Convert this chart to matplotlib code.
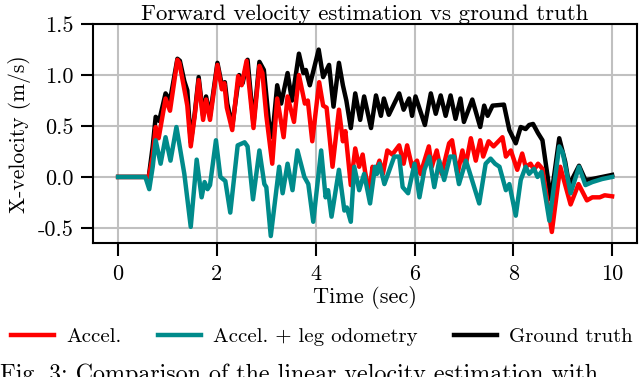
import numpy as np
import matplotlib
matplotlib.use("Agg")
import matplotlib.pyplot as plt

plt.rcParams['font.family'] = ['cmr10', 'DejaVu Serif']
plt.rcParams['axes.unicode_minus'] = False
plt.rcParams['mathtext.fontset'] = 'cm'

# Accel. (red)
t_acc = [0.0, 0.62, 0.70, 0.76, 0.82, 0.96, 1.05, 1.20, 1.24, 1.34, 1.40, 1.47,
         1.55, 1.63, 1.72, 1.78, 1.86, 2.01, 2.10, 2.15, 2.20, 2.31, 2.43, 2.50,
         2.60, 2.74, 2.86, 2.92, 3.00, 3.12, 3.22, 3.35, 3.43, 3.56, 3.66, 3.78,
         3.84, 3.93, 4.07, 4.15, 4.22, 4.34, 4.47, 4.55, 4.60, 4.71, 4.80, 4.88,
         4.95, 5.00, 5.08, 5.15, 5.20, 5.29, 5.36, 5.45, 5.55, 5.69, 5.78, 5.85,
         5.95, 6.05, 6.12, 6.29, 6.35, 6.45, 6.55, 6.70, 6.76, 6.87, 6.97, 7.03,
         7.14, 7.24, 7.33, 7.39, 7.50, 7.60, 7.78, 7.85, 7.95, 8.08, 8.18, 8.25,
         8.35, 8.42, 8.50, 8.59, 8.78, 8.95, 9.16, 9.32, 9.49, 9.60, 9.75, 9.85,
         10.0]
v_acc = [0.0, 0.0, 0.20, 0.49, 0.38, 0.77, 0.65, 1.15, 1.12, 0.86, 0.70, 0.30,
         0.60, 0.95, 0.56, 0.76, 0.56, 1.10, 0.86, 0.92, 0.68, 0.46, 0.99, 0.90,
         1.14, 0.48, 1.09, 1.02, 0.60, 0.13, 0.77, 0.39, 0.79, 0.54, 1.00, 0.72,
         0.75, 0.35, 0.93, 0.70, 0.68, 0.10, 0.66, 0.35, 0.45, -0.08, 0.28, 0.10,
         0.22, 0.05, -0.16, 0.10, 0.03, 0.16, 0.03, 0.26, 0.22, 0.31, 0.13, 0.31,
         0.10, 0.16, 0.03, 0.30, 0.10, 0.26, 0.03, 0.33, 0.36, 0.03, 0.26, 0.10,
         0.38, 0.16, 0.36, 0.20, 0.35, 0.30, 0.39, 0.20, 0.26, 0.07, 0.23, 0.10,
         0.13, 0.07, 0.13, 0.08, -0.54, 0.10, -0.27, -0.07, -0.23, -0.20, -0.20, -0.18,
         -0.19]

# Accel. + leg odometry (teal)
t_leg = [0.0, 0.55, 0.63, 0.70, 0.76, 0.86, 0.96, 1.06, 1.18, 1.26, 1.34, 1.47,
         1.59, 1.69, 1.75, 1.81, 1.86, 1.98, 2.07, 2.17, 2.27, 2.42, 2.56, 2.62,
         2.73, 2.86, 2.96, 3.00, 3.09, 3.26, 3.33, 3.43, 3.53, 3.63, 3.77, 3.85,
         3.95, 4.11, 4.20, 4.25, 4.32, 4.47, 4.58, 4.63, 4.71, 4.78, 4.88, 4.98,
         5.10, 5.20, 5.24, 5.29, 5.39, 5.59, 5.69, 5.76, 5.87, 6.00, 6.10, 6.20,
         6.30, 6.40, 6.50, 6.60, 6.72, 6.80, 6.90, 7.04, 7.10, 7.31, 7.44, 7.54,
         7.63, 7.72, 7.85, 7.92, 8.05, 8.15, 8.25, 8.32, 8.42, 8.49, 8.57, 8.73,
         8.93, 9.00, 9.16, 9.33, 9.46, 9.60, 9.80, 10.0]
v_leg = [0.0, 0.0, -0.12, 0.10, 0.36, 0.13, 0.39, 0.16, 0.49, 0.26, 0.03, -0.49,
         0.17, -0.20, -0.05, -0.12, -0.08, 0.36, 0.00, -0.04, -0.35, 0.31, 0.34, 0.30,
         -0.22, 0.26, -0.07, -0.10, -0.58, 0.10, -0.16, 0.13, -0.13, 0.26, 0.00, -0.07,
         -0.44, 0.26, -0.20, -0.13, -0.39, 0.07, -0.33, -0.30, -0.44, 0.10, -0.13, 0.03,
         -0.26, 0.10, 0.03, 0.13, -0.07, 0.20, 0.20, -0.10, -0.16, 0.13, -0.20, 0.07,
         0.20, -0.10, 0.16, -0.03, 0.20, 0.20, -0.07, 0.16, 0.07, -0.26, 0.13, 0.18,
         0.13, 0.10, -0.13, -0.07, -0.38, -0.03, 0.10, 0.03, 0.08, 0.00, 0.05, -0.43,
         0.30, 0.24, -0.16, 0.10, -0.08, -0.05, -0.02, 0.00]

# Ground truth (black)
t_gt = [0.0, 0.62, 0.70, 0.76, 0.83, 0.96, 1.05, 1.20, 1.25, 1.34, 1.40, 1.47,
        1.55, 1.63, 1.72, 1.78, 1.86, 2.01, 2.10, 2.16, 2.21, 2.31, 2.45, 2.52,
        2.62, 2.74, 2.86, 2.95, 3.05, 3.12, 3.22, 3.30, 3.43, 3.52, 3.66, 3.75,
        3.80, 3.88, 4.06, 4.15, 4.27, 4.36, 4.47, 4.55, 4.62, 4.71, 4.80, 4.90,
        4.98, 5.12, 5.22, 5.32, 5.38, 5.48, 5.69, 5.78, 5.89, 5.95, 6.02, 6.21,
        6.33, 6.43, 6.53, 6.63, 6.73, 6.83, 6.93, 7.00, 7.17, 7.33, 7.41, 7.48,
        7.58, 7.81, 7.92, 8.05, 8.15, 8.25, 8.32, 8.40, 8.50, 8.59, 8.76, 8.93,
        9.05, 9.13, 9.33, 9.46, 9.60, 9.80, 10.0]
v_gt = [0.0, 0.0, 0.30, 0.59, 0.55, 0.82, 0.75, 1.16, 1.14, 0.94, 0.85, 0.34,
        0.62, 0.98, 0.60, 0.79, 0.60, 1.12, 0.90, 0.93, 0.72, 0.50, 1.00, 0.92,
        1.15, 0.52, 1.13, 1.05, 0.55, 0.39, 0.90, 0.72, 1.02, 0.75, 1.21, 1.02,
        1.05, 0.90, 1.25, 0.98, 1.10, 0.69, 1.12, 0.90, 0.75, 0.48, 0.82, 0.56,
        0.79, 0.48, 0.80, 0.60, 0.77, 0.61, 0.82, 0.66, 0.77, 0.60, 0.79, 0.51,
        0.82, 0.62, 0.80, 0.60, 0.80, 0.57, 0.77, 0.54, 0.76, 0.49, 0.70, 0.60,
        0.70, 0.71, 0.46, 0.33, 0.49, 0.47, 0.51, 0.52, 0.43, 0.36, -0.22, 0.38,
        0.15, -0.08, 0.11, -0.03, -0.02, 0.00, 0.02]

fig = plt.figure(figsize=(6.4, 3.77), dpi=100)
ax = fig.add_axes([0.146, 0.355, 0.849, 0.581])

ax.plot(t_gt, v_gt, color='black', lw=3.2, label='Ground truth')
ax.plot(t_acc, v_acc, color='#ff0000', lw=3.2, label='Accel.')
ax.plot(t_leg, v_leg, color='#008b8b', lw=3.2, label='Accel. + leg odometry')

ax.set_xlim(-0.5, 10.5)
ax.set_ylim(-0.65, 1.5)
ax.set_xticks([0, 2, 4, 6, 8, 10])
ax.set_yticks([-0.5, 0.0, 0.5, 1.0, 1.5])
ax.set_yticklabels(['-0.5', '0.0', '0.5', '1.0', '1.5'])
ax.grid(True, color='#c0c0c0', lw=1.5)
ax.set_axisbelow(True)
for s in ax.spines.values():
    s.set_linewidth(1.5)
ax.tick_params(labelsize=16, length=9, width=1.5)
ax.tick_params(axis='x', pad=6)
ax.tick_params(axis='y', pad=5)

ax.set_title('Forward velocity estimation vs ground truth', fontsize=16.5, pad=3)
ax.set_xlabel('Time (sec)', fontsize=16, labelpad=2)
ax.set_ylabel('X-velocity (m/s)', fontsize=15.5, labelpad=5)

h, l = ax.get_legend_handles_labels()
order = [1, 2, 0]
fig.legend([h[i] for i in order], [l[i] for i in order], loc='center',
           bbox_to_anchor=(0.503, 0.107), ncol=3, frameon=False, fontsize=15,
           handlelength=2.05, columnspacing=1.75, handletextpad=0.6,
           borderpad=0.1, borderaxespad=0.1)

fig.text(0.0, 0.035, 'Fig. 3: Comparison of the linear velocity estimation with',
         fontsize=17.3, va='top', ha='left')

fig.savefig('out.png', dpi=100)
